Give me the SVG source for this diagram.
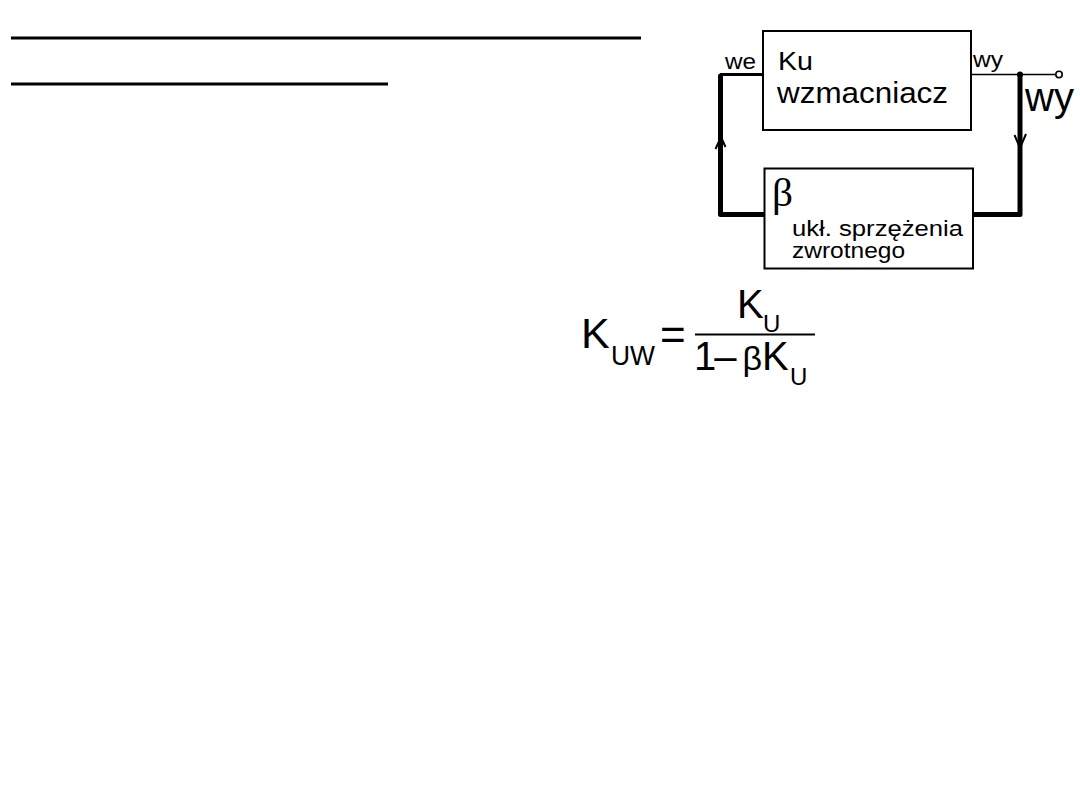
<svg xmlns="http://www.w3.org/2000/svg" width="1080" height="810" viewBox="0 0 1080 810">
<style>
.bg{fill:#fff}
.box{fill:#fff;stroke:#000;stroke-width:2}
.t{font-family:"Liberation Sans",Arial,sans-serif;fill:#000}
.serif{font-family:"Liberation Serif","Times New Roman",serif;fill:#000}
.thick{fill:none;stroke:#000;stroke-width:5;stroke-linejoin:round;stroke-linecap:round}
.thin{fill:none;stroke:#000;stroke-width:1.6}
.arr{fill:none;stroke:#000;stroke-width:2;stroke-linejoin:miter}
.rule{stroke:#000;stroke-width:3}
</style>
<rect class="bg" x="0" y="0" width="1080" height="810"/>

<g id="header-lines">
<line class="rule" x1="11" y1="38" x2="641" y2="38"/>
<line class="rule" x1="11" y1="84" x2="388" y2="84"/>
</g>

<g id="connectors">
<path class="thin" d="M720 74.5 L763 74.5" style="stroke-width:3"/>
<path class="thick" d="M720.5 76 L720.5 214.5 L765 214.5"/>
<path class="thin" d="M971 74.5 L1056 74.5"/>
<path class="thick" d="M1020 75 L1020 214.5 L973 214.5"/>
<polyline class="arr" points="715.5,149 721,137 725.5,147"/>
<polyline class="arr" points="1014.5,135 1020,148 1026,134"/>
<circle cx="1020" cy="74.5" r="3" fill="#000"/>
</g>

<g id="labels-io">
<text class="t" x="725" y="69" font-size="22" textLength="31" lengthAdjust="spacingAndGlyphs">we</text>
<text class="t" x="973" y="67" font-size="22" textLength="30" lengthAdjust="spacingAndGlyphs">wy</text>
</g>

<g id="amplifier">
<rect class="box" x="763" y="31" width="208" height="99"/>
<text class="t" x="778" y="70" font-size="26" textLength="35" lengthAdjust="spacingAndGlyphs">Ku</text>
<text class="t" x="777" y="102.5" font-size="30" textLength="171" lengthAdjust="spacingAndGlyphs">wzmacniacz</text>
</g>

<g id="feedback">
<rect class="box" x="764.5" y="168.5" width="208.5" height="100"/>
<text class="serif" x="772" y="206" font-size="39" textLength="21" lengthAdjust="spacingAndGlyphs">β</text>
<text class="t" font-size="22.5"><tspan x="792" y="235.5" textLength="171" lengthAdjust="spacingAndGlyphs">ukł. sprzężenia</tspan><tspan x="792" y="257.5" textLength="113" lengthAdjust="spacingAndGlyphs">zwrotnego</tspan></text>
</g>

<g id="output">
<circle cx="1059" cy="74.5" r="3.2" fill="#fff" stroke="#000" stroke-width="1.6"/>
<text class="t" x="1025" y="111" font-size="40" textLength="49" lengthAdjust="spacingAndGlyphs">wy</text>
</g>

<g id="formula">
<text class="t" x="581" y="348" font-size="43">K</text>
<text class="t" x="611" y="365" font-size="27" textLength="44" lengthAdjust="spacingAndGlyphs">UW</text>
<text class="t" x="660" y="350" font-size="44">=</text>
<line x1="695" y1="334.5" x2="815" y2="334.5" stroke="#000" stroke-width="2"/>
<text class="t" x="737" y="318" font-size="40">K</text>
<text class="t" x="763" y="331.5" font-size="24">U</text>
<text class="t" x="694" y="370" font-size="40">1<tspan dx="-2">–</tspan><tspan dx="6" font-size="34">β</tspan>K</text>
<text class="t" x="790" y="385" font-size="24">U</text>
</g>
</svg>
